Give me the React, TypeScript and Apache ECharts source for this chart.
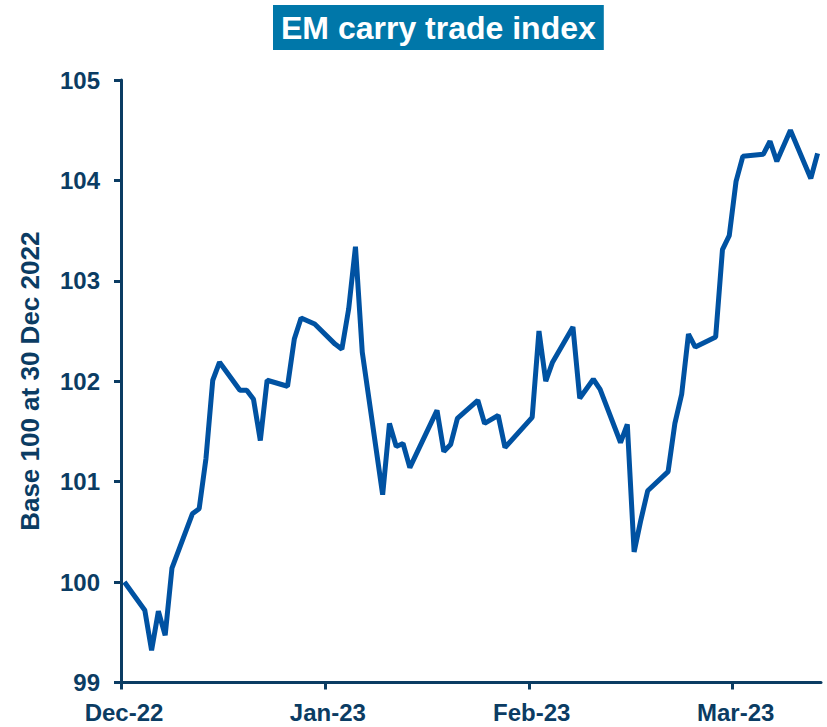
import React, { useEffect, useRef } from "react";
import * as echarts from "echarts";

const TITLE = "EM carry trade index";
const Y_AXIS_NAME = "Base 100 at 30 Dec 2022";
const BASE_DATE = "2022-12-30";

const dates: string[] = [
  "2022-12-30",
  "2023-01-02", "2023-01-03", "2023-01-04", "2023-01-05", "2023-01-06",
  "2023-01-09", "2023-01-10", "2023-01-11", "2023-01-12", "2023-01-13",
  "2023-01-16", "2023-01-17", "2023-01-18", "2023-01-19", "2023-01-20",
  "2023-01-23", "2023-01-24", "2023-01-25", "2023-01-26", "2023-01-27",
  "2023-01-30", "2023-01-31", "2023-02-01", "2023-02-02", "2023-02-03",
  "2023-02-06", "2023-02-07", "2023-02-08", "2023-02-09", "2023-02-10",
  "2023-02-14", "2023-02-15", "2023-02-16", "2023-02-17",
  "2023-02-20", "2023-02-21", "2023-02-23", "2023-02-24",
  "2023-02-28", "2023-03-01", "2023-03-02", "2023-03-03",
  "2023-03-06", "2023-03-07", "2023-03-09", "2023-03-10",
  "2023-03-13", "2023-03-14", "2023-03-15", "2023-03-16", "2023-03-17",
  "2023-03-20", "2023-03-21", "2023-03-22", "2023-03-23", "2023-03-24",
  "2023-03-27", "2023-03-28", "2023-03-29", "2023-03-30", "2023-03-31",
  "2023-04-03", "2023-04-04", "2023-04-05", "2023-04-07",
  "2023-04-10", "2023-04-11",
];

const values: number[] = [
  100.0,
  99.72, 99.32, 99.71, 99.47, 100.14,
  100.68, 100.73, 101.23, 102.01, 102.19,
  101.91, 101.91, 101.82, 101.41, 102.01,
  101.95, 102.42, 102.63, 102.6, 102.57,
  102.37, 102.32, 102.72, 103.34, 102.29,
  100.87, 101.58, 101.35, 101.38, 101.14,
  101.71, 101.3, 101.37, 101.63,
  101.81, 101.58, 101.66, 101.34,
  101.64, 102.5, 102.0, 102.19,
  102.54, 101.83, 102.02, 101.92,
  101.39, 101.57, 100.3, 100.62, 100.91,
  101.1, 101.58, 101.87, 102.47, 102.34,
  102.44, 103.31, 103.45, 103.99, 104.24,
  104.26, 104.39, 104.19, 104.5,
  104.02, 104.27,
];

const xTickDays: number[] = [0, 30, 60, 90];
const xTickLabels: string[] = ["Dec-22", "Jan-23", "Feb-23", "Mar-23"];
const xMaxDays = 103;
const yMin = 99;
const yMax = 105;

const NAVY = "#0B3C63";
const LINE = "#0052A2";
const TEAL = "#0077A9";
const FONT = "'Liberation Sans', Arial, sans-serif";

function dayOffset(d: string): number {
  const [y, m, dd] = d.split("-").map(Number);
  const [by, bm, bd] = BASE_DATE.split("-").map(Number);
  return (Date.UTC(y, m - 1, dd) - Date.UTC(by, bm - 1, bd)) / 86400000;
}

export default function App() {
  const ref = useRef<HTMLDivElement>(null);
  useEffect(() => {
    if (!ref.current) return;
    const chart = echarts.init(ref.current, null, { renderer: "svg" });
    // Excel-style date axis: each day is a slot, points sit in the middle of their slot
    const seriesData = dates.map((d, i) => [dayOffset(d) + 0.5, values[i]]);
    chart.setOption({
      animation: false,
      title: {
        text: TITLE,
        left: 273,
        top: 5,
        padding: [5, 8, 5, 8],
        backgroundColor: TEAL,
        textStyle: {
          color: "#ffffff",
          fontFamily: FONT,
          fontWeight: "bold",
          fontSize: 32,
          lineHeight: 35,
        },
      },
      grid: { left: 121, right: 6, top: 80, bottom: 44.5, containLabel: false },
      xAxis: {
        type: "value",
        min: 0,
        max: xMaxDays,
        interval: 30,
        splitLine: { show: false },
        axisLine: { show: true, lineStyle: { color: NAVY, width: 3 } },
        axisTick: {
          show: true,
          length: 7,
          customValues: xTickDays,
          lineStyle: { color: NAVY, width: 3 },
        },
        axisLabel: {
          customValues: xTickDays,
          formatter: (v: number) => {
            const i = xTickDays.indexOf(Math.round(v));
            return i >= 0 ? xTickLabels[i] : "";
          },
          color: NAVY,
          fontFamily: FONT,
          fontWeight: "bold",
          fontSize: 24,
          margin: 18,
          padding: [0, 0, 0, 6],
        },
      },
      yAxis: {
        type: "value",
        min: yMin,
        max: yMax,
        interval: 1,
        name: Y_AXIS_NAME,
        nameLocation: "middle",
        nameRotate: 90,
        nameGap: 78,
        nameTextStyle: {
          color: NAVY,
          fontFamily: FONT,
          fontWeight: "bold",
          fontSize: 26,
        },
        splitLine: { show: false },
        axisLine: { show: true, lineStyle: { color: NAVY, width: 3 } },
        axisTick: { show: true, length: 7, lineStyle: { color: NAVY, width: 3 } },
        axisLabel: {
          color: NAVY,
          fontFamily: FONT,
          fontWeight: "bold",
          fontSize: 24,
          margin: 21,
        },
      },
      series: [
        {
          type: "line",
          data: seriesData,
          showSymbol: false,
          symbol: "none",
          lineStyle: { color: LINE, width: 5 },
        },
      ],
    });
    return () => chart.dispose();
  }, []);
  return (
    <div
      ref={ref}
      style={{ position: "fixed", left: 0, top: 0, width: 827, height: 727, background: "#fff" }}
    />
  );
}
